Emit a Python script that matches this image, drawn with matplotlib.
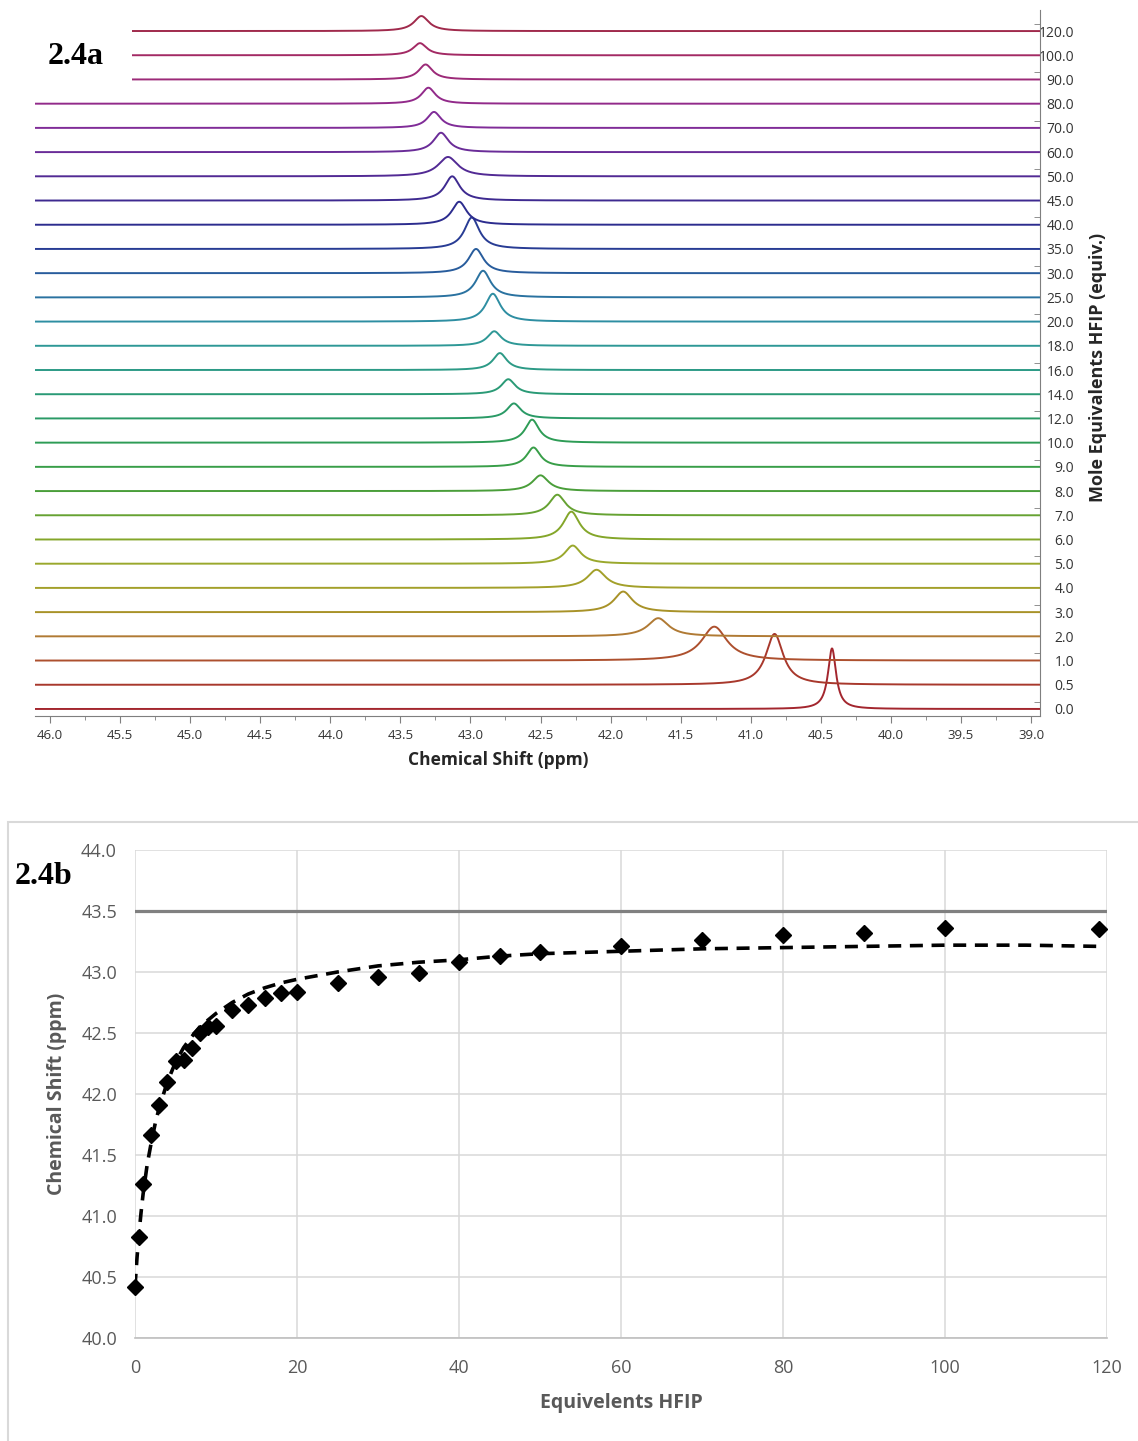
import numpy as np
import matplotlib
matplotlib.use("Agg")
import matplotlib.pyplot as plt
from matplotlib.patches import Rectangle

plt.rcParams['font.family'] = ['Open Sans', 'DejaVu Sans']

# ---- 2.4a : stacked 19F spectra, bottom (0.0 equiv) to top (120 equiv)
equiv_labels = ["0.0", "0.5", "1.0", "2.0", "3.0", "4.0", "5.0", "6.0", "7.0", "8.0",
                "9.0", "10.0", "12.0", "14.0", "16.0", "18.0", "20.0", "25.0", "30.0",
                "35.0", "40.0", "45.0", "50.0", "60.0", "70.0", "80.0", "90.0", "100.0",
                "120.0"]
peak_height = [2.5, 2.1, 1.4, 0.75, 0.85, 0.75, 0.75, 1.15, 0.85, 0.65,
               0.8, 0.95, 0.62, 0.62, 0.7, 0.6, 1.15, 1.1, 1.0,
               1.3, 0.95, 1.0, 0.8, 0.8, 0.66, 0.66, 0.62, 0.5, 0.62]
peak_width = [0.035, 0.075, 0.11, 0.09, 0.08, 0.08, 0.07, 0.07, 0.07, 0.07,
              0.06, 0.06, 0.06, 0.06, 0.06, 0.06, 0.065, 0.065, 0.065,
              0.065, 0.065, 0.065, 0.085, 0.065, 0.06, 0.06, 0.06, 0.06, 0.065]
line_colors = ['#a3262e', '#a8382c', '#ad502e', '#b07a34', '#a89228', '#a3a02a',
               '#9aa82c', '#84a62a', '#66a232', '#4a9e3a', '#389e48', '#2e9c56',
               '#2a9a66', '#2a9a76', '#2c9a86', '#2e9896', '#2e8ea2', '#2a72a0',
               '#285c9c', '#283c94', '#2c2c8e', '#3e2a90', '#522a94', '#6a2c98',
               '#802c98', '#922a8a', '#9c2a78', '#a32a64', '#a02a4c']

# ---- 2.4b : titration curve
equiv = [0, 0.5, 1, 2, 3, 4, 5, 6, 7, 8, 9, 10, 12, 14, 16, 18, 20, 25, 30,
         35, 40, 45, 50, 60, 70, 80, 90, 100, 119]
shift = [40.42, 40.83, 41.26, 41.66, 41.91, 42.10, 42.27, 42.28, 42.38, 42.50,
         42.55, 42.56, 42.69, 42.73, 42.79, 42.83, 42.84, 42.91, 42.96,
         42.99, 43.08, 43.13, 43.16, 43.21, 43.26, 43.30, 43.32, 43.36, 43.35]
fit_equiv = [0, 0.25, 0.5, 0.75, 1, 1.5, 2, 2.5, 3, 4, 5, 6, 7, 8, 10, 12, 14, 16,
             18, 20, 25, 30, 35, 40, 45, 50, 60, 70, 80, 90, 100, 110, 119]
fit_shift = [40.42, 40.66, 40.86, 41.03, 41.18, 41.42, 41.60, 41.76, 41.89, 42.10,
             42.26, 42.38, 42.47, 42.55, 42.66, 42.75, 42.82, 42.87, 42.91, 42.94,
             43.00, 43.05, 43.08, 43.10, 43.13, 43.15, 43.17, 43.19, 43.20, 43.21,
             43.22, 43.22, 43.21]
limit_shift = 43.5

W, H = 1138, 1441
fig = plt.figure(figsize=(W / 100, H / 100), dpi=100)

# ---------------- top panel
ax1 = fig.add_axes([35 / W, 1 - 716 / H, 1005 / W, 706 / H])
ppm = np.linspace(46.2, 38.9, 4000)
for i, (c, h, w, col) in enumerate(zip(shift, peak_height, peak_width, line_colors)):
    ax1.plot(ppm, i + h * w ** 2 / ((ppm - c) ** 2 + w ** 2), color=col, lw=1.4)

ax1.set_xlim(46.107, 38.936)
ax1.set_ylim(-0.29, 28.87)
for s in ['left', 'top']:
    ax1.spines[s].set_visible(False)
for s in ['bottom', 'right']:
    ax1.spines[s].set_color('#7f7f7f')

ax1.set_xticks(np.arange(39.0, 46.01, 0.5))
ax1.set_xticklabels([f'{v:.1f}' for v in np.arange(39.0, 46.01, 0.5)])
ax1.set_xticks(np.arange(39.25, 46.0, 0.5), minor=True)
ax1.tick_params(axis='x', which='major', length=5, color='#7f7f7f',
                labelsize=9.5, labelcolor='#333333', pad=4)
ax1.tick_params(axis='x', which='minor', length=3, color='#7f7f7f')

ax1.yaxis.set_ticks_position('right')
ax1.set_yticks(range(len(equiv_labels)))
ax1.set_yticklabels(equiv_labels)
ax1.set_yticks(np.arange(0.3, 29, 2), minor=True)
ax1.tick_params(axis='y', which='major', length=0, pad=24.5,
                labelsize=10, labelcolor='#333333')
ax1.tick_params(axis='y', which='minor', length=4, direction='in', color='#7f7f7f')
for t in ax1.get_yticklabels():
    t.set_horizontalalignment('right')

ax1.set_xlabel('Chemical Shift (ppm)', fontsize=12.5, fontweight='bold',
               color='#262626', va='center')
ax1.xaxis.set_label_coords((498 - 35) / 1005, -(760 - 716) / 706)
ax1.yaxis.set_label_position('right')
ax1.set_ylabel('Mole Equivalents HFIP (equiv.)', fontsize=13, fontweight='bold',
               color='#262626', va='center', ha='center')
ax1.yaxis.set_label_coords((1098 - 35) / 1005, (716 - 367) / 706)

fig.add_artist(Rectangle((30 / W, 1 - 90 / H), 102 / W, 75 / H, transform=fig.transFigure,
                         facecolor='white', edgecolor='none', zorder=5))
fig.text(76 / W, 1 - 57 / H, '2.4a', family='Liberation Serif', fontweight='bold',
         fontsize=23, ha='center', va='center', zorder=6)

# ---------------- bottom panel
fig.add_artist(Rectangle((8 / W, -0.01), 1.0, (H - 822) / H + 0.01, transform=fig.transFigure,
                         fill=False, edgecolor='#d9d9d9', lw=1.5))

ax2 = fig.add_axes([135 / W, 1 - 1338 / H, 972 / W, 488 / H])
ax2.set_xlim(0, 120)
ax2.set_ylim(40, 44)
ax2.set_xticks(range(0, 121, 20))
yt = np.arange(40, 44.01, 0.5)
ax2.set_yticks(yt)
ax2.set_yticklabels([f'{v:.1f}' for v in yt])
ax2.grid(True, color='#d9d9d9', lw=1.1)
ax2.set_axisbelow(True)
for s in ['left', 'top', 'right']:
    ax2.spines[s].set_visible(False)
ax2.spines['bottom'].set_color('#bfbfbf')
ax2.spines['bottom'].set_linewidth(1.2)
ax2.tick_params(axis='both', length=0, labelsize=13, labelcolor='#595959')
ax2.tick_params(axis='x', pad=15)
ax2.tick_params(axis='y', pad=13)

ax2.axhline(limit_shift, color='#808080', lw=2.3)
ax2.plot(fit_equiv, fit_shift, color='black', lw=2.6, dashes=(3.6, 2.4))
ax2.plot(equiv, shift, ls='none', marker='D', color='black', ms=8, clip_on=False, zorder=4)

ax2.set_ylabel('Chemical Shift (ppm)', fontsize=14, fontweight='bold', color='#595959',
               va='center', ha='center')
ax2.yaxis.set_label_coords((57 - 135) / 972, 0.5)
ax2.set_xlabel('Equivelents HFIP', fontsize=14, fontweight='bold', color='#595959',
               va='center')
ax2.xaxis.set_label_coords((621 - 135) / 972, -(1403 - 1338) / 488)

fig.text(44 / W, 1 - 877 / H, '2.4b', family='Liberation Serif', fontweight='bold',
         fontsize=23, ha='center', va='center')

fig.savefig('out.png', dpi=100, facecolor='white')
